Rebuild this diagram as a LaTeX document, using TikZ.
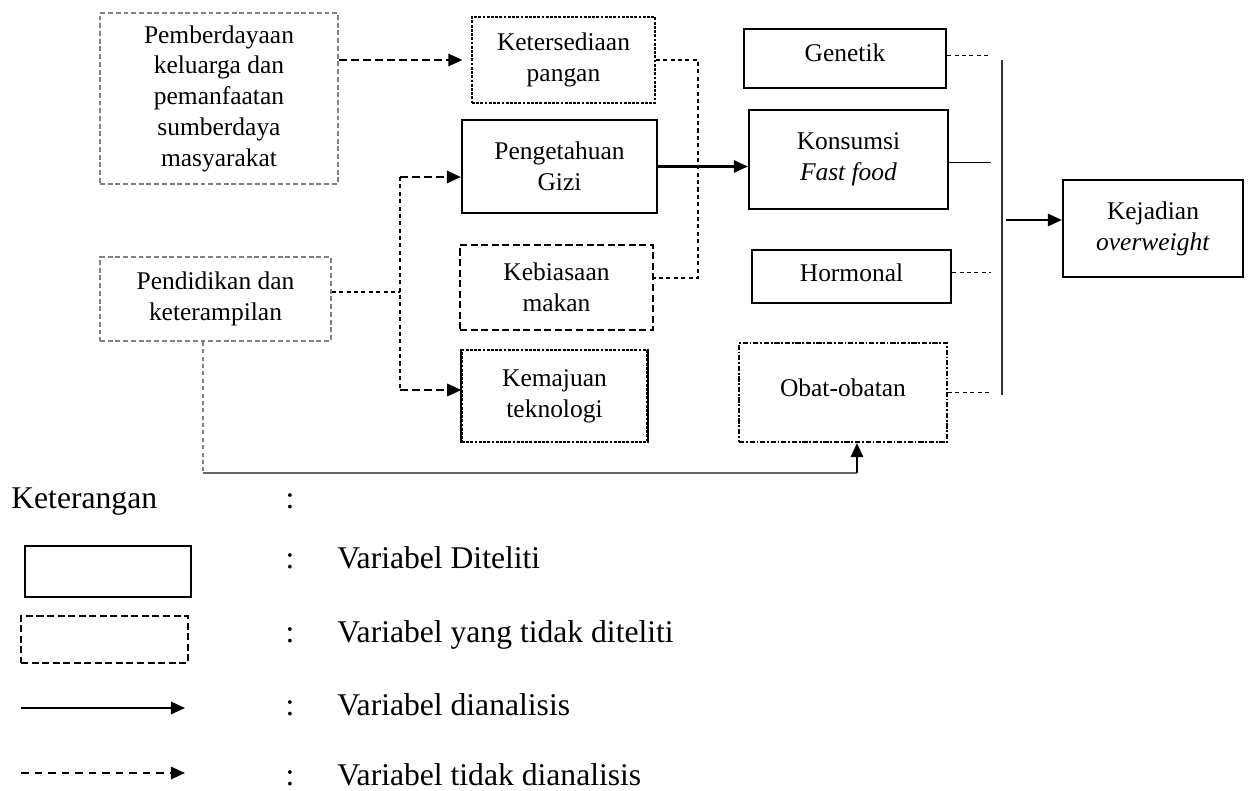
\documentclass[tikz,border=0pt]{standalone}
\usepackage{fontspec}
\setmainfont{Liberation Serif}
\usetikzlibrary{arrows.meta,calc}
\newcommand{\diagfont}{\fontsize{14.5}{17.5}\selectfont}
\newcommand{\legfont}{\fontsize{18}{20}\selectfont}
\tikzset{
    plain/.style={
        align=center,
        inner sep=0pt,
        font=\diagfont
    },
    solidbox/.style={plain, draw, line width=1.3pt},
    greybox/.style={plain, draw=black!50, line width=1pt, dash pattern=on 2.8pt off 1.6pt},
    dotbox/.style={plain, draw, line width=0.9pt, dash pattern=on 1.6pt off 0.8pt},
    dashbox/.style={plain, draw, line width=1.2pt, dash pattern=on 4pt off 2pt},
    dotdashbox/.style={plain, draw, line width=1.2pt, dash pattern=on 3pt off 1pt on 1pt off 1pt},
    flow/.style={-{Triangle[length=8pt,width=7pt]}, line width=1.2pt},
    dflow/.style={flow, dash pattern=on 4.5pt off 2.3pt},
    link/.style={line width=0.6pt, dash pattern=on 2.3pt off 1.9pt},
    bus/.style={line width=0.7pt, black!80},
    legtext/.style={anchor=base west, inner sep=0pt, font=\legfont}
}

\begin{document}
\begin{tikzpicture}[x=0.02cm, y=-0.02cm]
    \useasboundingbox (0,0) rectangle (1251,791);

    \node[greybox, minimum width=4.76cm, minimum height=3.42cm] (pember) at (219,98.5)
        {Pemberdayaan\\keluarga dan\\pemanfaatan\\sumberdaya\\masyarakat};
    \node[greybox, minimum width=4.62cm, minimum height=1.68cm] (didik) at (215.5,299)
        {Pendidikan dan\\keterampilan};

    \node[dotbox, minimum width=3.66cm, minimum height=1.72cm] (sedia) at (563.5,60) {Ketersediaan\\pangan};
    \node[solidbox, minimum width=3.9cm, minimum height=1.86cm] (gizi) at (559.5,166.5) {Pengetahuan\\Gizi};
    \node[dashbox, minimum width=3.86cm, minimum height=1.7cm] (biasa) at (556.5,287.5) {Kebiasaan\\makan};
    \node[dotbox, minimum width=3.7cm, minimum height=1.84cm] (maju) at (554.5,396) {Kemajuan\\teknologi};
    \draw[line width=1.3pt] (maju.north west) -- (maju.south west) (maju.north east) -- (maju.south east);

    \node[solidbox, minimum width=4.04cm, minimum height=1.18cm, text depth=0.24cm] (genetik) at (845,58.5) {Genetik};
    \node[solidbox, minimum width=3.98cm, minimum height=1.98cm] (konsumsi) at (848.5,159.5) {Konsumsi\\\textit{Fast food}};
    \node[solidbox, minimum width=3.98cm, minimum height=1.06cm, text depth=0.16cm] (hormonal) at (851.5,276.5) {Hormonal};
    \node[dotdashbox, minimum width=4.16cm, minimum height=1.98cm, text depth=0.2cm] (obat) at (843,392.5) {Obat-obatan};
    \node[solidbox, minimum width=3.6cm, minimum height=1.94cm] (kejadian) at (1153,228.5) {Kejadian\\\textit{overweight}};

    \draw[dflow, shorten >=5pt] (pember.east |- sedia.west) -- (sedia.west);
    \draw[flow] (gizi.east) -- (gizi.east -| konsumsi.west);

    \coordinate (brk) at (698,170);
    \draw[link] (sedia.east) -| (brk) |- ($(biasa.east)+(0,-9.5)$);

    \coordinate (fork) at (400,292);
    \coordinate (forkup) at (400,177);
    \coordinate (forkdn) at (400,390);
    \draw[link] ($(didik.east)+(0,-7)$) -- (fork);
    \draw[link] (forkup) -- (forkdn);
    \draw[dflow] (forkup) -- (forkup -| gizi.west);
    \draw[dflow] (forkdn) -- (forkdn -| maju.west);

    \coordinate (gapx) at (991,0);
    \draw[link] ($(genetik.east)+(0,-3)$) -- ($(genetik.east -| gapx)+(0,-3)$);
    \draw[line width=0.7pt] ($(konsumsi.east)+(0,3)$) -- ($(konsumsi.east -| gapx)+(0,3)$);
    \draw[link] ($(hormonal.east)+(0,-4)$) -- ($(hormonal.east -| gapx)+(0,-4)$);
    \draw[link] (obat.east) -- (obat.east -| gapx);
    \coordinate (bustop) at (1002,60);
    \coordinate (busbot) at (1002,395);
    \draw[bus] (bustop) -- (busbot);
    \coordinate (busout) at (1006,220);
    \draw[flow] (busout) -- (busout -| kejadian.west);

    \coordinate (lowl) at (203,473);
    \coordinate (lowr) at (857,473);
    \draw[link, black!50] (didik.south -| lowl) -- (lowl);
    \draw[line width=1pt, black!60] (lowl) -- (lowr);
    \draw[flow] (lowr) -- (lowr |- obat.south);

    \node[legtext] (ket) at (11,508) {Keterangan};
    \node[legtext, anchor=base] (col0) at (290,508) {:};
    \node[legtext, anchor=base] (col1) at (290,568) {:};
    \node[legtext, anchor=base] (col2) at (290,642) {:};
    \node[legtext, anchor=base] (col3) at (290,715) {:};
    \node[legtext, anchor=base] (col4) at (290,785) {:};

    \node[solidbox, minimum width=3.32cm, minimum height=1.02cm] (lgsolid) at (108,571.5) {};
    \node[dashbox, minimum width=3.34cm, minimum height=0.94cm] (lgdash) at (104.5,639.5) {};
    \coordinate (la1) at (21,708);
    \coordinate (la2) at (185,708);
    \draw[flow] (la1) -- (la2);
    \coordinate (lb1) at (21,773);
    \coordinate (lb2) at (185,773);
    \draw[dflow, dash pattern=on 4.3pt off 3.4pt] (lb1) -- (lb2);

    \node[legtext] (t1) at (337,568) {Variabel Diteliti};
    \node[legtext] (t2) at (337,642) {Variabel yang tidak diteliti};
    \node[legtext] (t3) at (337,715) {Variabel dianalisis};
    \node[legtext] (t4) at (337,785) {Variabel tidak dianalisis};
\end{tikzpicture}
\end{document}
